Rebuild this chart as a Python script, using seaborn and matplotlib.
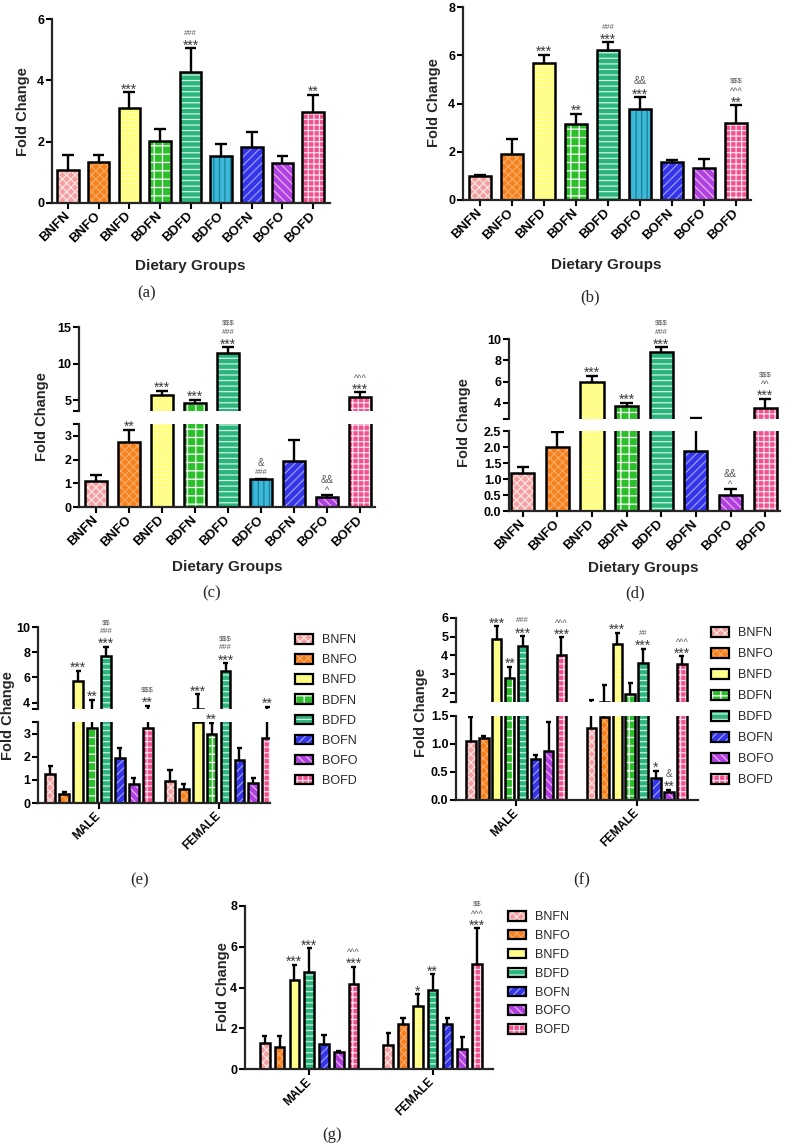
import numpy as np
import pandas as pd
import matplotlib
matplotlib.use('Agg')
import matplotlib.pyplot as plt
import seaborn as sns
from matplotlib.patches import Rectangle, Patch
from matplotlib.colors import to_rgba

# ---- data ----
groups9 = ['BNFN', 'BNFO', 'BNFD', 'BDFN', 'BDFD', 'BDFO', 'BOFN', 'BOFO', 'BOFD']
groups8 = ['BNFN', 'BNFO', 'BNFD', 'BDFN', 'BDFD', 'BOFN', 'BOFO', 'BOFD']
groups7 = ['BNFN', 'BNFO', 'BNFD', 'BDFD', 'BOFN', 'BOFO', 'BOFD']
sexes = ['MALE', 'FEMALE']

a_mean = [1.07, 1.35, 3.09, 2.02, 4.26, 1.52, 1.84, 1.30, 2.96]
a_sem = [0.50, 0.23, 0.52, 0.39, 0.78, 0.41, 0.49, 0.22, 0.57]
a_sig = ['', '', '***', '', '###\n***', '', '', '', '**']

b_mean = [1.01, 1.91, 5.67, 3.14, 6.20, 3.78, 1.56, 1.31, 3.20]
b_sem = [0.02, 0.61, 0.35, 0.43, 0.33, 0.48, 0.09, 0.39, 0.72]
b_sig = ['', '', '***', '**', '###\n***', '&&\n***', '', '', '$$$\n^^^\n**']

c_mean = [1.09, 2.76, 5.69, 4.63, 11.42, 1.16, 1.94, 0.42, 5.37]
c_sem = [0.28, 0.49, 0.55, 0.37, 0.78, 0.04, 0.89, 0.10, 0.68]
c_sig = ['', '**', '***', '***', '$$$\n###\n***', '&\n###', '', '&&\n^', '^^^\n***']

d_mean = [1.20, 2.00, 5.98, 3.69, 8.74, 1.87, 0.49, 3.53]
d_sem = [0.16, 0.46, 0.54, 0.34, 0.47, 0.75, 0.19, 0.85]
d_sig = ['', '', '***', '***', '$$$\n###\n***', '', '&&\n^', '$$$\n^^\n***']

e_male = [1.24, 0.39, 5.69, 3.22, 7.69, 1.96, 0.83, 3.22]
e_male_sem = [0.36, 0.08, 0.83, 0.98, 0.73, 0.43, 0.27, 0.53]
e_male_sig = ['', '', '***', '**', '$$\n###\n***', '', '', '$$$\n**']
e_female = [0.93, 0.60, 3.48, 2.97, 6.55, 1.86, 0.86, 2.79]
e_female_sem = [0.50, 0.23, 1.17, 0.48, 0.58, 0.50, 0.24, 0.86]
e_female_sig = ['', '', '***', '**', '$$$\n###\n***', '', '', '**']

f_male = [1.05, 1.11, 4.90, 2.76, 4.49, 0.73, 0.88, 4.04]
f_male_sem = [0.43, 0.04, 0.65, 0.61, 0.53, 0.07, 0.52, 0.93]
f_male_sig = ['', '', '***', '**', '###\n***', '', '', '^^^\n***']
f_female = [1.29, 1.49, 4.63, 1.95, 3.60, 0.40, 0.15, 3.55]
f_female_sem = [0.33, 0.91, 0.57, 0.58, 0.75, 0.12, 0.03, 0.40]
f_female_sig = ['', '', '***', '', '##\n***', '*', '&\n**', '^^^\n***']

g_male = [1.26, 1.10, 4.37, 4.78, 1.23, 0.83, 4.17]
g_male_sem = [0.38, 0.54, 0.73, 1.14, 0.44, 0.05, 0.85]
g_male_sig = ['', '', '***', '***', '', '', '^^^\n***']
g_female = [1.18, 2.21, 3.11, 3.88, 2.19, 1.00, 5.14]
g_female_sem = [0.57, 0.28, 0.56, 0.77, 0.30, 0.55, 1.76]
g_female_sig = ['', '', '*', '**', '', '', '$$\n^^^\n***']

# y ticks
a_ticks = [0, 2, 4, 6]
b_ticks = [0, 2, 4, 6, 8]
c_lo_ticks, c_hi_ticks = [0, 1, 2, 3], [5, 10, 15]
d_lo_ticks, d_hi_ticks = [0.0, 0.5, 1.0, 1.5, 2.0, 2.5], [4, 6, 8, 10]
e_lo_ticks, e_hi_ticks = [0, 1, 2, 3], [4, 6, 8, 10]
f_lo_ticks, f_hi_ticks = [0.0, 0.5, 1.0, 1.5], [2, 3, 4, 5, 6]
g_ticks = [0, 2, 4, 6, 8]

# ---- styles ----
group_colors = {'BNFN': '#f4a0a0', 'BNFO': '#f5801e', 'BNFD': '#ffff78', 'BDFN': '#2cbf2c',
                'BDFD': '#2bb57c', 'BDFO': '#3cb8d8', 'BOFN': '#3434e8', 'BOFO': '#b040e0',
                'BOFD': '#f2508e'}
group_hatch = {'BNFN': 'xxxx', 'BNFO': 'xxxx', 'BNFD': '....', 'BDFN': '++',
               'BDFD': '---', 'BDFO': '|||', 'BOFN': '////', 'BOFO': '\\\\\\\\', 'BOFD': '+++'}
hatch_color = {'BNFN': '#fde4e4', 'BNFO': '#faa862', 'BNFD': '#ffffd8', 'BDFN': '#ffffff',
               'BDFD': '#d0f2e2', 'BDFO': '#1c7f9a', 'BOFN': '#9a9aff', 'BOFO': '#e8b0f8',
               'BOFD': '#fde0ea'}

sns.set_theme(style='ticks')
plt.rcParams['font.family'] = ['Liberation Sans', 'DejaVu Sans']
plt.rcParams['hatch.linewidth'] = 0.9
plt.rcParams['text.parse_math'] = False

W, H = 786, 1148
fig = plt.figure(figsize=(W / 100, H / 100), dpi=100)


def px_axes(left, top, right, bottom):
    return fig.add_axes([left / W, 1 - bottom / H, (right - left) / W, (bottom - top) / H])


def style_y(ax, ylim, ticks, labels, bottom_spine=True, top_tick=False, bottom_tick=False):
    ticks = list(ticks)
    labels = list(labels)
    if top_tick:
        ticks.append(ylim[1]); labels.append('')
    if bottom_tick:
        ticks.insert(0, ylim[0]); labels.insert(0, '')
    ax.set_ylim(*ylim)
    ax.set_yticks(ticks)
    ax.set_yticklabels(labels, fontweight='bold', fontsize=9)
    for s in ['top', 'right']:
        ax.spines[s].set_visible(False)
    ax.spines['left'].set_linewidth(1.6)
    ax.spines['bottom'].set_linewidth(1.6)
    ax.tick_params(axis='y', length=4, width=1.5, pad=1.5, colors='black')
    ax.tick_params(axis='x', length=4, width=1.5, colors='black')
    ax.set_xlabel('')
    ax.set_ylabel('')
    if not bottom_spine:
        ax.spines['bottom'].set_visible(False)
        ax.tick_params(axis='x', bottom=False, labelbottom=False)


def draw_bars(ax, df, x, order, hue_order, width, gap, sem_of, ylim, cap_frac=0.27):
    pal = {g: group_colors[g] for g in hue_order}
    sns.barplot(data=df, x=x, y='fc', hue='group', order=order, hue_order=hue_order,
                palette=pal, width=width, gap=gap, saturation=1, linewidth=0,
                errorbar=None, legend=False, ax=ax)
    tops = []
    for rect in list(ax.patches):
        h = rect.get_height()
        if np.isnan(h) or h == 0:
            continue
        g = next(k for k in hue_order
                 if np.allclose(to_rgba(group_colors[k]), rect.get_facecolor(), atol=0.01))
        rect.set_hatch(group_hatch[g])
        rect.set_edgecolor(hatch_color[g])
        rect.set_linewidth(0)
        bw = rect.get_width()
        ax.add_patch(Rectangle((rect.get_x(), 0), bw, h, fill=False,
                               edgecolor='black', linewidth=1.8, zorder=2))
        cx = rect.get_x() + bw / 2
        c = int(round(cx))
        sem, sig = sem_of(g, c)
        top = h + sem
        # upward-only SEM bar, cap drawn only where it is inside this axis
        ax.vlines(cx, h, top, color='black', linewidth=1.7, zorder=3)
        if ylim[0] <= top <= ylim[1]:
            ax.hlines(top, cx - cap_frac * bw, cx + cap_frac * bw, color='black',
                      linewidth=1.7, zorder=3)
        tops.append((cx, top, sig))
    return tops


ink_center = {'*': 0.58, '#': 0.36, '$': 0.36, '^': 0.56, '&': 0.36}


def annotate(ax, cx, top, sig):
    if not sig:
        return
    center = 5.0
    for line in reversed(sig.split('\n')):
        ch = line[0]
        size = {'*': 10, '&': 7.0, '^': 6.5}.get(ch, 5.5)
        color = '#3a3a3a' if ch == '*' else '#555555'
        ax.annotate(line, (cx, top), xytext=(0, center - ink_center[ch] * size),
                    textcoords='offset points', ha='center', va='baseline',
                    fontsize=size, color=color, annotation_clip=False)
        center += 7.0 if ch == '*' else 6.2


def x_group_labels(ax, labels, size):
    ax.set_xticks(range(len(labels)))
    ax.set_xticklabels(labels, rotation=45, ha='right', va='center', rotation_mode='anchor',
                       fontweight='bold', fontsize=size)
    ax.tick_params(axis='x', pad=4)


def simple_df(groups, means):
    return pd.DataFrame({'group': groups, 'fc': means})


def sex_df(groups, male, female):
    return pd.DataFrame({'sex': ['MALE'] * len(groups) + ['FEMALE'] * len(groups),
                         'group': list(groups) * 2, 'fc': list(male) + list(female)})


def fig_label(x, y, s):
    fig.text(x / W, 1 - y / H, s, ha='center', va='center', fontsize=12,
             family=['Liberation Serif', 'DejaVu Serif'])


def fold_label(x, y):
    fig.text(x / W, 1 - y / H, 'Fold Change', rotation=90, ha='center', va='center',
             fontsize=10.5, fontweight='bold')


def diet_label(x, y):
    fig.text(x / W, 1 - y / H, 'Dietary Groups', ha='center', va='center',
             fontsize=11, fontweight='bold')


def legend(groups, left, top, pitch):
    handles = [(Patch(facecolor=group_colors[g], hatch=group_hatch[g],
                      edgecolor=hatch_color[g], linewidth=0),
                Patch(fill=False, edgecolor='black', linewidth=1.6)) for g in groups]
    fig.legend(handles, groups, loc='upper left', bbox_to_anchor=(left / W, 1 - top / H),
               frameon=False, fontsize=9, handlelength=1.4, handleheight=0.8,
               handletextpad=0.75, labelspacing=pitch, borderpad=0, borderaxespad=0)


def single_panel(box, df, x, order, hue_order, width, gap, sem_of, ylim, ticks, xlim,
                 labels, label_size):
    ax = px_axes(*box)
    tops = draw_bars(ax, df, x, order, hue_order, width, gap, sem_of, ylim)
    style_y(ax, ylim, ticks, [str(t) for t in ticks])
    ax.set_xlim(*xlim)
    x_group_labels(ax, labels, label_size)
    for cx, t, s in tops:
        annotate(ax, cx, t, s)
    return ax


def broken_panel(left, right, hi_box, lo_box, df, x, order, hue_order, width, gap,
                 sem_of, brk, ymax, lo_ticks, lo_labels, hi_ticks, hi_labels, xlim):
    ax_hi = px_axes(left, hi_box[0], right, hi_box[1])
    ax_lo = px_axes(left, lo_box[0], right, lo_box[1])
    draw_bars(ax_hi, df, x, order, hue_order, width, gap, sem_of, (brk, ymax))
    tops = draw_bars(ax_lo, df, x, order, hue_order, width, gap, sem_of, (0, brk))
    style_y(ax_hi, (brk, ymax), hi_ticks, hi_labels, bottom_spine=False, bottom_tick=True)
    style_y(ax_lo, (0, brk), lo_ticks, lo_labels, top_tick=(lo_ticks[-1] != brk))
    for a in (ax_hi, ax_lo):
        a.set_xlim(*xlim)
    for cx, t, s in tops:
        annotate(ax_hi if t > brk else ax_lo, cx, t, s)
    return ax_hi, ax_lo


# ---- panel (a) ----
single_panel((52, 19, 330, 203), simple_df(groups9, a_mean), 'group', groups9, groups9, 0.7, 0,
             lambda g, c: (a_sem[c], a_sig[c]), (0, 6), a_ticks, (-0.52, 8.55), groups9, 9.5)
fold_label(23, 112)
diet_label(190, 266)
fig_label(147, 293, '(a)')

# ---- panel (b) ----
single_panel((463, 7, 751, 200), simple_df(groups9, b_mean), 'group', groups9, groups9, 0.67, 0,
             lambda g, c: (b_sem[c], b_sig[c]), (0, 8), b_ticks, (-0.53, 8.47), groups9, 9.5)
fold_label(434, 103)
diet_label(606, 265)
fig_label(590, 297, '(b)')

# ---- panel (c) ----
ax_hi, ax_lo = broken_panel(79, 375, (327, 411), (424, 507), simple_df(groups9, c_mean),
                            'group', groups9, groups9, 0.66, 0,
                            lambda g, c: (c_sem[c], c_sig[c]), 3.5, 15,
                            c_lo_ticks, [str(t) for t in c_lo_ticks],
                            c_hi_ticks, [str(t) for t in c_hi_ticks], (-0.52, 8.45))
x_group_labels(ax_lo, groups9, 9.5)
fold_label(42, 417)
diet_label(227, 567)
fig_label(212, 593, '(c)')

# ---- panel (d) ----
ax_hi, ax_lo = broken_panel(509, 780, (339, 419), (431, 511), simple_df(groups8, d_mean),
                            'group', groups8, groups8, 0.67, 0,
                            lambda g, c: (d_sem[c], d_sig[c]), 2.5, 10,
                            d_lo_ticks, ['%.1f' % t for t in d_lo_ticks],
                            d_hi_ticks, [str(t) for t in d_hi_ticks], (-0.4, 7.43))
x_group_labels(ax_lo, groups8, 9.5)
fold_label(464, 423)
diet_label(643, 568)
fig_label(635, 593, '(d)')


# ---- panel (e) ----
def e_lookup(g, c):
    i = groups8.index(g)
    return ((e_male_sem[i], e_male_sig[i]) if c == 0 else (e_female_sem[i], e_female_sig[i]))


ax_hi, ax_lo = broken_panel(38, 270, (627, 709), (722, 803), sex_df(groups8, e_male, e_female),
                            'sex', sexes, groups8, 0.93, 0.3, e_lookup, 3.5, 10,
                            e_lo_ticks, [str(t) for t in e_lo_ticks],
                            e_hi_ticks, [str(t) for t in e_hi_ticks], (-0.51, 1.43))
x_group_labels(ax_lo, sexes, 8.5)
fold_label(8, 716)
legend(groups8, 295, 634, 0.64)
fig_label(140, 880, '(e)')


# ---- panel (f) ----
def f_lookup(g, c):
    i = groups8.index(g)
    return ((f_male_sem[i], f_male_sig[i]) if c == 0 else (f_female_sem[i], f_female_sig[i]))


ax_hi, ax_lo = broken_panel(456, 698, (618, 702), (716, 800), sex_df(groups8, f_male, f_female),
                            'sex', sexes, groups8, 0.86, 0.28, f_lookup, 1.5, 6,
                            f_lo_ticks, ['%.1f' % t for t in f_lo_ticks],
                            f_hi_ticks, [str(t) for t in f_hi_ticks], (-0.5, 1.51))
x_group_labels(ax_lo, sexes, 8.5)
fold_label(421, 713)
legend(groups8, 711, 627, 0.71)
fig_label(582, 880, '(f)')


# ---- panel (g) ----
def g_lookup(g, c):
    i = groups7.index(g)
    return ((g_male_sem[i], g_male_sig[i]) if c == 0 else (g_female_sem[i], g_female_sig[i]))


single_panel((245, 906, 493, 1069), sex_df(groups7, g_male, g_female), 'sex', sexes, groups7,
             0.84, 0.35, g_lookup, (0, 8), g_ticks, (-0.52, 1.49), sexes, 8.5)
fold_label(223, 987)
legend(groups7, 508, 911, 0.54)
fig_label(332, 1135, '(g)')

fig.savefig('out.png', dpi=100, facecolor='white')
